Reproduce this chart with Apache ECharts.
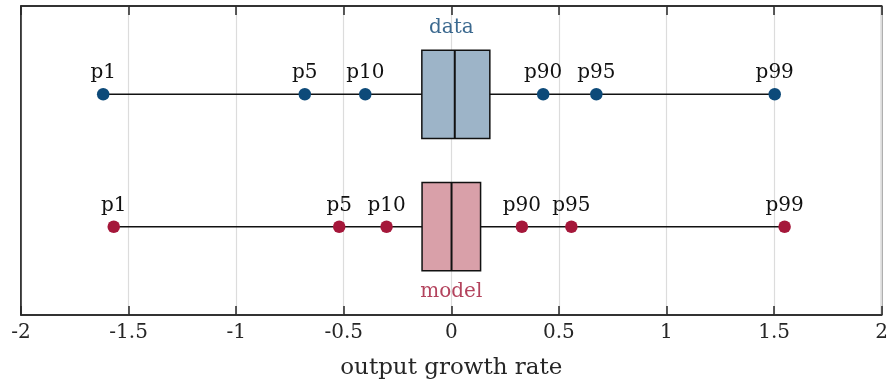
<!DOCTYPE html>
<html>
<head>
<meta charset="utf-8">
<script src="https://cdn.jsdelivr.net/npm/echarts@6/dist/echarts.min.js"></script>
<style>
  html, body { margin: 0; padding: 0; background: #fff; }
  #chart { width: 891px; height: 386px; }
</style>
</head>
<body>
<div id="chart"></div>
<script>
// Percentile summary of output growth rates: data vs model
const groups = ['data', 'model'];
const rowPos = [1, 0];
const pctNames = ['p1', 'p5', 'p10', 'p90', 'p95', 'p99'];
const dataPct = [-1.618, -0.681, -0.400, 0.427, 0.674, 1.503];
const modelPct = [-1.569, -0.521, -0.301, 0.328, 0.558, 1.549];
// interquartile box: [p25, median, p75]
const dataBox = [-0.137, 0.016, 0.179];
const modelBox = [-0.136, 0.001, 0.136];
const xTicks = [-2, -1.5, -1, -0.5, 0, 0.5, 1, 1.5, 2];

const blue = '#0d4a79';
const blueFill = '#9db4c8';
const red = '#a5173a';
const redFill = '#d9a0a9';
const FONT = 'DejaVu Serif';
const HALF = 1 / 3;

const pctSets = [dataPct, modelPct];
const boxSets = [dataBox, modelBox];
const colors = [blue, red];
const fills = [blueFill, redFill];

const series = [];

// whisker lines from p1 to p99
groups.forEach((g, i) => {
  const p = pctSets[i];
  series.push({
    type: 'line',
    data: [[p[0], rowPos[i]], [p[p.length - 1], rowPos[i]]],
    symbol: 'none',
    lineStyle: { color: '#111', width: 1.5 },
    z: 2,
    silent: true
  });
});

// boxes with median line
series.push({
  type: 'custom',
  data: groups.map((g, i) => [boxSets[i][0], boxSets[i][1], boxSets[i][2], rowPos[i], i]),
  renderItem: function (params, api) {
    const q1 = api.value(0), med = api.value(1), q3 = api.value(2), y = api.value(3);
    const idx = api.value(4);
    const tl = api.coord([q1, y + HALF]);
    const br = api.coord([q3, y - HALF]);
    const mt = api.coord([med, y + HALF]);
    const mb = api.coord([med, y - HALF]);
    return {
      type: 'group',
      children: [
        {
          type: 'rect',
          shape: { x: tl[0], y: tl[1], width: br[0] - tl[0], height: br[1] - tl[1] },
          style: { fill: fills[idx], stroke: '#111', lineWidth: 1.5 }
        },
        {
          type: 'line',
          shape: { x1: mt[0], y1: mt[1], x2: mb[0], y2: mb[1] },
          style: { stroke: '#111', lineWidth: 2 }
        }
      ]
    };
  },
  z: 3,
  silent: true
});

// percentile dots with labels
groups.forEach((g, i) => {
  series.push({
    type: 'scatter',
    data: pctSets[i].map((v, k) => ({ value: [v, rowPos[i]], name: pctNames[k] })),
    symbol: 'circle',
    symbolSize: 12.5,
    itemStyle: { color: colors[i], opacity: 1 },
    label: {
      show: true,
      position: 'top',
      distance: 5,
      formatter: '{b}',
      color: '#111',
      fontFamily: FONT,
      fontSize: 20
    },
    z: 4,
    silent: true
  });
});

// group names above / below the boxes
series.push({
  type: 'scatter',
  symbolSize: 0,
  data: [
    { value: [0, rowPos[0] + HALF], name: groups[0], label: { color: '#0a4373', position: 'top', distance: 12 } },
    { value: [0, rowPos[1] - HALF], name: groups[1], label: { color: '#a01434', position: 'bottom', distance: 11 } }
  ],
  label: { show: true, formatter: '{b}', fontFamily: FONT, fontSize: 20 },
  z: 5,
  silent: true
});

const axisStyle = { onZero: false, lineStyle: { color: '#262626', width: 1.5 } };
const tickStyle = { show: true, inside: true, length: 9, lineStyle: { color: '#262626', width: 1.5 } };

const option = {
  animation: false,
  backgroundColor: '#ffffff',
  grid: {
    left: 21, right: 9, top: 6, bottom: 71,
    show: true, borderColor: '#262626', borderWidth: 1.5, backgroundColor: 'transparent'
  },
  xAxis: [
    {
      type: 'value', min: -2, max: 2, interval: 0.5, position: 'bottom',
      name: 'output growth rate', nameLocation: 'middle', nameGap: 42,
      nameTextStyle: { fontFamily: FONT, fontSize: 23, color: '#262626' },
      axisLine: axisStyle,
      axisTick: tickStyle,
      axisLabel: {
        fontFamily: FONT, fontSize: 20, color: '#262626', margin: 8,
        formatter: function (v) { return xTicks.indexOf(v) >= 0 ? String(v) : ''; }
      },
      splitLine: { show: true, lineStyle: { color: '#dcdcdc', width: 1.2 } }
    },
    {
      type: 'value', min: -2, max: 2, interval: 0.5, position: 'top',
      axisLine: axisStyle,
      axisTick: tickStyle,
      axisLabel: { show: false },
      splitLine: { show: false }
    }
  ],
  yAxis: {
    type: 'value', min: -2 / 3, max: 5 / 3,
    axisLine: { show: true, onZero: false, lineStyle: { color: '#262626', width: 1.5 } },
    axisTick: { show: false }, axisLabel: { show: false }, splitLine: { show: false }
  },
  series: series
};

const chart = echarts.init(document.getElementById('chart'), null, { renderer: 'canvas' });
chart.setOption(option);
</script>
</body>
</html>
